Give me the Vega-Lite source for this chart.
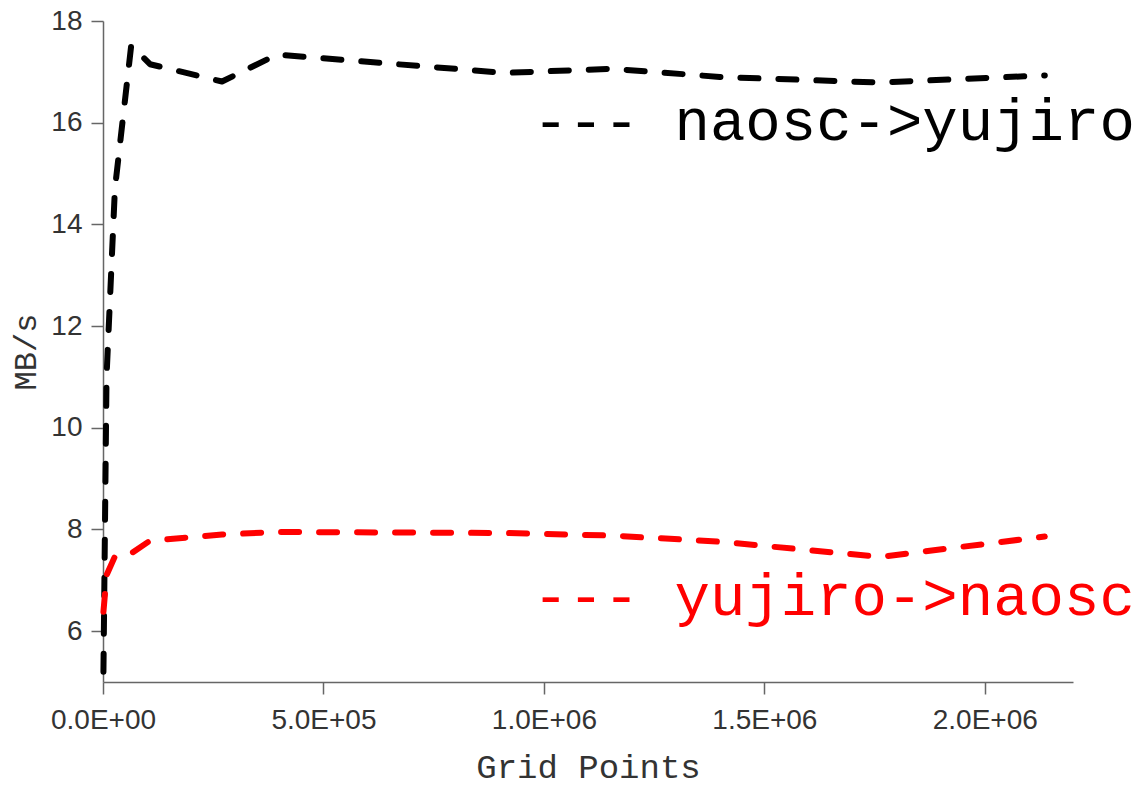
{
  "$schema": "https://vega.github.io/schema/vega-lite/v6.json",
  "autosize": "none",
  "width": 970,
  "height": 661,
  "padding": {"left": 103, "top": 21, "right": 73, "bottom": 106},
  "background": "white",
  "config": {"view": {"stroke": null}},
  "datasets": {
    "series": [
      {"series": "naosc->yujiro", "points": 1000, "mbs": 5.2},
      {"series": "naosc->yujiro", "points": 8000, "mbs": 11.0},
      {"series": "naosc->yujiro", "points": 27000, "mbs": 14.7},
      {"series": "naosc->yujiro", "points": 64000, "mbs": 17.52},
      {"series": "naosc->yujiro", "points": 106600, "mbs": 17.15},
      {"series": "naosc->yujiro", "points": 270000, "mbs": 16.81},
      {"series": "naosc->yujiro", "points": 394600, "mbs": 17.34},
      {"series": "naosc->yujiro", "points": 911600, "mbs": 16.98},
      {"series": "naosc->yujiro", "points": 1154000, "mbs": 17.06},
      {"series": "naosc->yujiro", "points": 1399000, "mbs": 16.9},
      {"series": "naosc->yujiro", "points": 1762000, "mbs": 16.79},
      {"series": "naosc->yujiro", "points": 2136000, "mbs": 16.93},
      {"series": "yujiro->naosc", "points": 1000, "mbs": 6.38},
      {"series": "yujiro->naosc", "points": 8000, "mbs": 7.1},
      {"series": "yujiro->naosc", "points": 27000, "mbs": 7.47},
      {"series": "yujiro->naosc", "points": 64000, "mbs": 7.53},
      {"series": "yujiro->naosc", "points": 106600, "mbs": 7.78},
      {"series": "yujiro->naosc", "points": 270000, "mbs": 7.9},
      {"series": "yujiro->naosc", "points": 394600, "mbs": 7.95},
      {"series": "yujiro->naosc", "points": 911600, "mbs": 7.93},
      {"series": "yujiro->naosc", "points": 1154000, "mbs": 7.88},
      {"series": "yujiro->naosc", "points": 1399000, "mbs": 7.76},
      {"series": "yujiro->naosc", "points": 1762000, "mbs": 7.46},
      {"series": "yujiro->naosc", "points": 2136000, "mbs": 7.86}
    ],
    "labels": [
      {"series": "naosc->yujiro", "points": 975000, "mbs": 15.65, "text": "--- naosc->yujiro"},
      {"series": "yujiro->naosc", "points": 975000, "mbs": 6.32, "text": "--- yujiro->naosc"}
    ]
  },
  "layer": [
    {
      "data": {"name": "series"},
      "mark": {"type": "line", "strokeWidth": 6, "strokeDash": [18, 20], "strokeCap": "round", "strokeJoin": "round", "clip": false},
      "encoding": {
        "x": {
          "field": "points", "type": "quantitative",
          "scale": {"domain": [0, 2200000], "nice": false, "zero": false},
          "axis": {
            "title": "Grid Points",
            "values": [0, 500000, 1000000, 1500000, 2000000],
            "labelExpr": "datum.value == 0 ? '0.0E+00' : datum.value == 500000 ? '5.0E+05' : datum.value == 1000000 ? '1.0E+06' : datum.value == 1500000 ? '1.5E+06' : '2.0E+06'",
            "labelFlush": false,
            "labelOverlap": false,
            "grid": false,
            "domainColor": "#666666", "domainWidth": 1.5,
            "tickColor": "#666666", "tickWidth": 1.5, "tickSize": 12,
            "labelFont": "Liberation Sans", "labelFontSize": 28, "labelColor": "#333333", "labelPadding": 12,
            "titleFont": "Liberation Mono", "titleFontSize": 34, "titleFontWeight": "normal", "titleColor": "#333333", "titlePadding": 16
          }
        },
        "y": {
          "field": "mbs", "type": "quantitative",
          "scale": {"domain": [5, 18], "nice": false, "zero": false},
          "axis": {
            "title": "MB/s",
            "values": [6, 8, 10, 12, 14, 16, 18],
            "labelFlush": false,
            "grid": false,
            "domainColor": "#666666", "domainWidth": 1.5,
            "tickColor": "#666666", "tickWidth": 1.5, "tickSize": 12,
            "labelFont": "Liberation Sans", "labelFontSize": 28, "labelColor": "#333333", "labelPadding": 9,
            "titleFont": "Liberation Mono", "titleFontSize": 32, "titleFontWeight": "normal", "titleColor": "#333333", "titlePadding": 8
          }
        },
        "color": {
          "field": "series", "type": "nominal",
          "scale": {"domain": ["naosc->yujiro", "yujiro->naosc"], "range": ["#000000", "#ff0000"]},
          "legend": null
        }
      }
    },
    {
      "data": {"name": "labels"},
      "mark": {"type": "text", "align": "left", "baseline": "alphabetic", "font": "Liberation Mono", "fontSize": 59},
      "encoding": {
        "x": {"field": "points", "type": "quantitative"},
        "y": {"field": "mbs", "type": "quantitative"},
        "text": {"field": "text"},
        "color": {"field": "series", "type": "nominal", "legend": null}
      }
    }
  ]
}
